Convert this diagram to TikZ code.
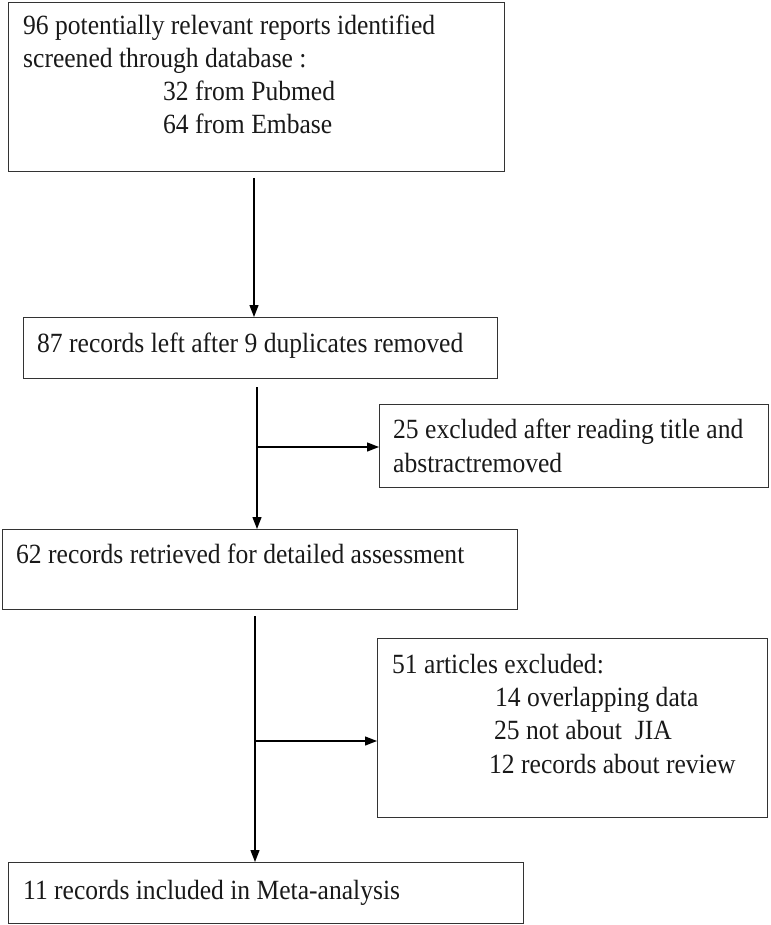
\documentclass[tikz,border=0pt]{standalone}
\usepackage{fontspec}
\setmainfont[FakeStretch=0.92]{Liberation Serif}
\usetikzlibrary{arrows.meta,calc}

\tikzset{
  box/.style={draw=black!80, line width=1.3pt, inner sep=0pt, anchor=north west},
  txt/.style={anchor=base west, inner sep=0pt, text=black!90, font=\fontsize{27.8}{33}\selectfont},
  arr/.style={line width=1.3pt, -{Triangle[length=12pt,width=9pt]}},
}

\begin{document}
\begin{tikzpicture}[x=1pt, y=-1pt]
  \useasboundingbox (0,0) rectangle (770,925);

  % boxes
  \node[box, minimum width=496pt, minimum height=169pt] (found) at (8,2) {};
  \node[box, minimum width=474pt, minimum height=61pt] (dedup) at (23,317) {};
  \node[box, minimum width=389pt, minimum height=83pt] (excl1) at (379,404) {};
  \node[box, minimum width=515pt, minimum height=80pt] (screen) at (2,529) {};
  \node[box, minimum width=390pt, minimum height=179pt] (excl2) at (377,638) {};
  \node[box, minimum width=515pt, minimum height=61pt] (incl) at (8,862) {};

  % texts
  \node[txt] (t1a) at (23,35) {96 potentially relevant reports identified};
  \node[txt] (t1b) at (23,68) {screened through database :};
  \node[txt] (t1c) at (163,101) {32 from Pubmed};
  \node[txt] (t1d) at (163,134) {64 from Embase};
  \node[txt] (t2) at (37,352) {87 records left after 9 duplicates removed};
  \node[txt] (t3a) at (393,438) {25 excluded after reading title and};
  \node[txt] (t3b) at (393,472) {abstractremoved};
  \node[txt] (t4) at (16,563) {62 records retrieved for detailed assessment};
  \node[txt] (t5a) at (392,673) {51 articles excluded:};
  \node[txt] (t5b) at (495,706) {14 overlapping data};
  \node[txt] (t5c) at (494,739) {25 not about\ \ JIA};
  \node[txt] (t5d) at (489,773) {12 records about review};
  \node[txt] (t6) at (23,899) {11 records included in Meta-analysis};

  % connectors
  \coordinate (s1) at (254,178);
  \draw[arr] (s1) -- (s1 |- dedup.north);

  \coordinate (s2) at (257,387);
  \coordinate (b1) at (257,447);
  \draw[arr] (s2) -- (s2 |- screen.north);
  \draw[arr] (b1) -- (b1 -| excl1.west);

  \coordinate (s3) at (255,616);
  \coordinate (b2) at (255,741);
  \draw[arr] (s3) -- (s3 |- incl.north);
  \draw[arr] (b2) -- (b2 -| excl2.west);
\end{tikzpicture}
\end{document}
